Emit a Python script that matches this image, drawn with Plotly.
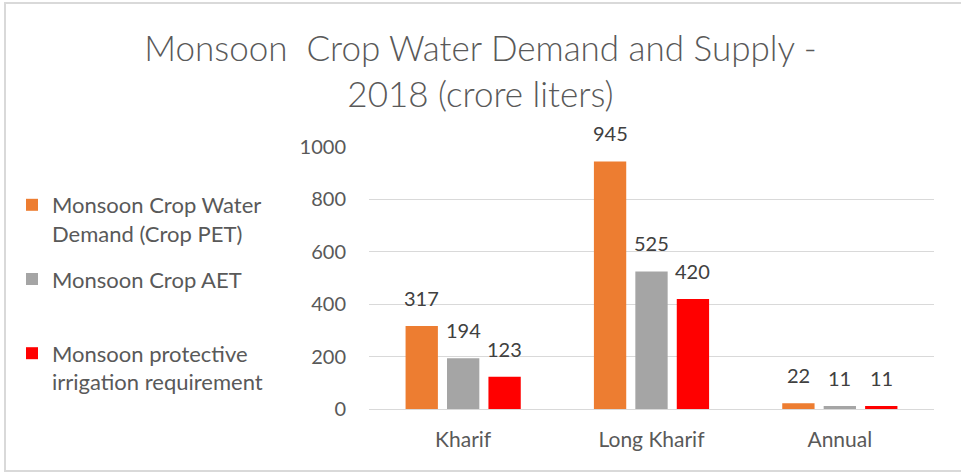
import plotly.graph_objects as go

categories = ["Kharif", "Long Kharif", "Annual"]
series_names = [
    "Monsoon Crop Water<br>Demand (Crop PET)",
    "Monsoon Crop AET<br>\u00a0",
    "Monsoon protective<br>irrigation requirement",
]
pet_values = [317, 945, 22]
aet_values = [194, 525, 11]
irrigation_values = [123, 420, 11]
y_ticks = [0, 200, 400, 600, 800, 1000]

colors = ["#ED7D31", "#A5A5A5", "#FF0000"]
FONT = "Lato, 'Open Sans', sans-serif"

W, H = 961, 473
L, R, T, B = 369, 27, 147, 64
pw, ph = W - L - R, H - T - B

def px_x(p):
    return (p - L) / pw

def px_y(p):
    return (H - B - p) / ph

BARGAP, GROUPGAP = 0.34, 0.22
slot = pw / len(categories) * (1 - BARGAP) / 3

fig = go.Figure()
annotations = []
all_values = [pet_values, aet_values, irrigation_values]
for i, (name, vals, col) in enumerate(zip(series_names, all_values, colors)):
    fig.add_trace(go.Bar(
        x=categories, y=vals, name=name, legendgroup=f"g{i}",
        marker=dict(color=col, line=dict(width=0)),
        hoverinfo="x+y",
    ))
    for c, v in zip(categories, vals):
        annotations.append(dict(
            x=c, y=v, xref="x", yref="y", text=str(v), showarrow=False,
            xanchor="center", yanchor="bottom", xshift=(i - 1) * slot, yshift=14,
            font=dict(size=20, color="#404040", family=FONT),
        ))

fig.update_layout(
    width=W, height=H,
    margin=dict(l=L, r=R, t=T, b=B),
    paper_bgcolor="white", plot_bgcolor="white",
    barmode="group", bargap=BARGAP, bargroupgap=GROUPGAP,
    title=dict(
        text="Monsoon  Crop Water Demand and Supply -<br>2018 (crore liters)",
        x=0.5, xanchor="center", xref="container",
        y=1 - 61 / H, yanchor="top", yref="container",
        font=dict(size=35, color="#595959", family=FONT, weight=300),
    ),
    font=dict(family=FONT, color="#595959"),
    showlegend=True,
    legend=dict(
        x=px_x(12), xanchor="left", y=px_y(184), yanchor="top",
        font=dict(size=22, color="#595959", family=FONT),
        valign="top", tracegroupgap=14, traceorder="grouped",
        itemwidth=30, bgcolor="rgba(0,0,0,0)",
    ),
    xaxis=dict(
        showgrid=False, showline=True, linecolor="#D9D9D9", linewidth=1,
        ticks="", ticklabelstandoff=12,
        tickfont=dict(size=21, color="#595959", family=FONT),
        fixedrange=True,
    ),
    yaxis=dict(
        range=[0, 1000], tickvals=y_ticks, showgrid=True, gridcolor="#D9D9D9",
        gridwidth=1, zeroline=False, showline=False, ticks="",
        ticklabelstandoff=22,
        tickfont=dict(size=20, color="#595959", family=FONT),
        fixedrange=True,
    ),
    annotations=annotations,
    shapes=[dict(
        type="rect", xref="paper", yref="paper",
        x0=px_x(5), x1=px_x(975), y0=px_y(471), y1=px_y(3),
        line=dict(color="#D9D9D9", width=2), fillcolor="rgba(0,0,0,0)", layer="below",
    )],
)

fig.write_html("out.html", config={"displayModeBar": False},
               post_script="document.body.style.margin='0px';")
